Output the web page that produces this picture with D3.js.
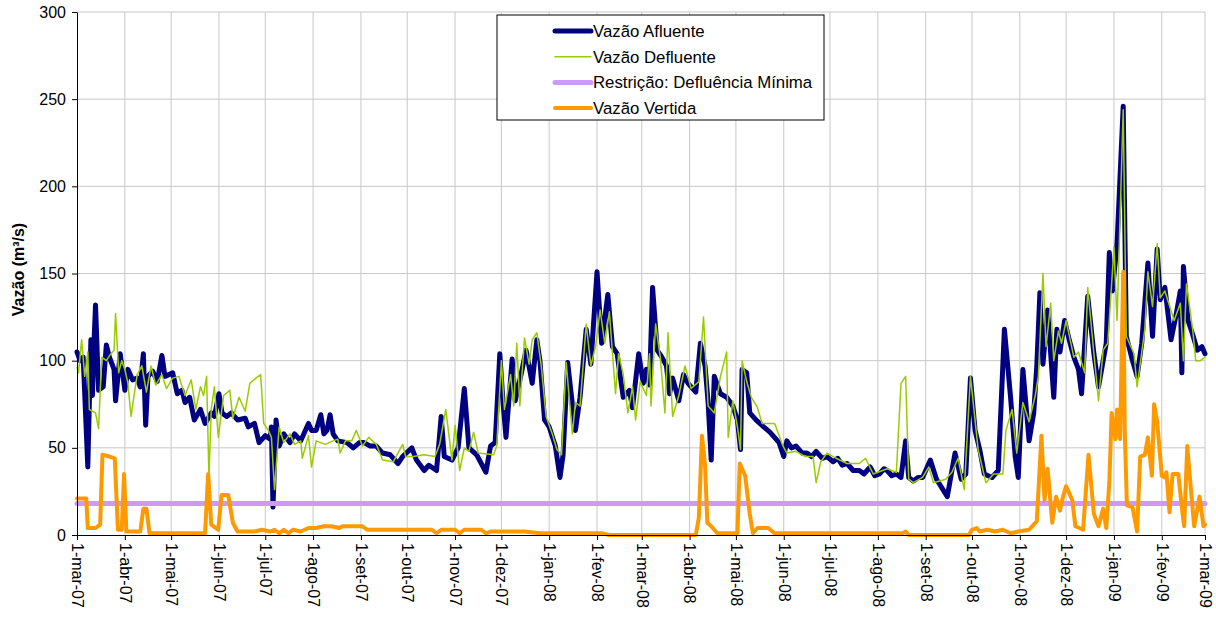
<!DOCTYPE html>
<html>
<head>
<meta charset="utf-8">
<script src="https://cdn.jsdelivr.net/npm/d3@7"></script>
<style>
  body { margin: 0; background: #fff; }
  svg { font-family: "Liberation Sans", Arial, sans-serif; }
</style>
</head>
<body>
<div id="chart"></div>
<script>
// day offsets counted from 1-mar-07
const startDate = new Date(2007, 2, 1);
const endDate = new Date(2009, 2, 1);
const monthNames = ["jan", "fev", "mar", "abr", "mai", "jun", "jul", "ago", "set", "out", "nov", "dez"];
const yTicks = [0, 50, 100, 150, 200, 250, 300];
const seriesNames = ["Vazão Afluente", "Vazão Defluente", "Restrição: Defluência Mínima", "Vazão Vertida"];

const afluente = [[0,105],[2,100],[4,102],[7,39],[9,112],[10,80],[11,110],[12,132],[14,83],[17,85],[19,109],[21,102],[24,95],[25,77],[28,104],[31,83],[33,95],[36,89],[39,90],[41,85],[43,104],[44.5,63],[46,91],[49,94],[52,88],[55,103],[57,91],[62,93],[65,81],[68,83],[70,76],[73,79],[76,66],[80,72],[83,64],[87,70],[89,68],[92,81],[94,70],[97,68],[100,70],[104,66],[109,67],[111,62],[115,64],[118,53],[122,57],[125,55],[126,62],[127,16],[129,66],[131,51],[134,58],[138,53],[141,58],[145,54],[150,64],[152,60],[155,60],[158,69],[160,58],[162,60],[164,69],[166,58],[169,54],[175,53],[179,50],[183,53],[186,53],[190,51],[194,51],[198,47],[203,46],[208,41],[211,45],[217,50],[220,43],[225,37],[228,40],[233,37],[236,68],[238,45],[243,43],[247,50],[251,84],[254,50],[259,46],[262,41],[265,36],[268,51],[271,53],[274,104],[276,77],[278,56],[282,101],[284,77],[288,93],[291,106],[295,87],[298,112],[300,100],[303,66],[306,62],[310,51],[313,33],[315,46],[318,99],[320,83],[323,60],[326,79],[330,118],[333,98],[337,151],[340,110],[344,138],[347,108],[350,104],[354,79],[358,83],[360,73],[364,104],[367,87],[369,95],[371,86],[373,142],[376,106],[379,102],[382,97],[384,81],[386,90],[390,77],[393,92],[396,87],[401,82],[404,110],[407,97],[409,76],[411,43],[413,91],[417,81],[421,79],[425,74],[428,66],[430,49],[431,95],[434,93],[436,70],[440,66],[445,62],[449,59],[452,56],[455,53],[458,45],[460,54],[463,50],[466,51],[470,47],[473,47],[476,45],[479,48],[483,44],[486,45],[490,42],[493,44],[496,40],[499,41],[503,37],[507,37],[510,35],[514,39],[517,34],[520,35],[523,38],[525,37],[528,34],[531,35],[534,33],[537,54],[539,33],[542,31],[545,33],[548,33],[553,43],[557,32],[564,22],[569,47],[573,32],[576,35],[579,90],[582,60],[585,49],[588,35],[593,33],[597,37],[601,118],[605,79],[608,45],[610,33],[613,95],[617,54],[620,70],[622,97],[624,139],[626,98],[629,129],[633,79],[635,118],[637,105],[640,123],[643,112],[646,102],[649,95],[651,81],[655,137],[659,104],[662,85],[665,100],[667,110],[669,162],[671,140],[674,167],[678,246],[680,114],[684,100],[687,91],[690,110],[694,156],[697,114],[700,164],[702,135],[705,142],[709,112],[712,125],[715,140],[716,93],[717,154],[720,123],[723,115],[726,106],[729,108],[731,104]];

const defluente = [[0,96],[1,93],[3,112],[5,91],[7,105],[8,72],[12,70],[14,61],[16,102],[19,100],[22,104],[24,106],[25,127],[27,93],[29,100],[31,95],[33,87],[35,68],[39,92],[42,97],[45,82],[48,97],[51,86],[55,92],[58,84],[62,90],[66,91],[70,80],[74,89],[77,72],[80,85],[82,80],[84,91],[85.5,33],[87,72],[89,85],[91.6,56],[95,80],[99,83],[101,67],[105,79],[109,71],[112,87],[116,90],[119,92],[121,64],[124,60],[126,56],[128,26],[131,62],[134,53],[138,58],[141,52],[145,54],[146,44],[150,57],[152,39],[155,54],[161,52],[166,54],[169,55],[170.5,47],[174,54],[178,54],[181,60],[185,51],[189,56],[194,52],[198,43],[205,42],[211,52],[213,45],[218,45],[225,46],[232,45],[235,52],[239,72],[243,43],[245,63],[248,37],[251,50],[254,48],[257,59],[260,47],[270,46],[272,51],[275,100],[277,72],[281,92],[283,74],[285,110],[287,74],[290,113],[293,98],[295,112],[298,116],[301,96],[304,68],[308,58],[311,49],[314,46],[317,99],[321,58],[323,76],[326,74],[330,121],[333,97],[336,108],[339,129],[342,110],[345,128],[349,81],[351,104],[354,92],[357,70],[360,85],[362,66],[365,88],[369,80],[371,104],[372,74],[375,121],[378,102],[381,70],[383,116],[386,68],[390,80],[394,97],[398,84],[403,88],[406,125],[409,74],[413,70],[417,91],[421,105],[422,56],[425,77],[428,62],[430,49],[431,100],[434,88],[437,79],[441,73],[444,64],[452,64],[453,62],[457,52],[460,47],[466,48],[472,45],[477,45],[479,30],[482,42],[486,47],[492,44],[499,41],[507,41],[511,44],[516,35],[525,38],[531,36],[534,87],[537,91],[539,32],[542,30],[548,33],[552,39],[555,30],[563,32],[567,36],[571,44],[575,26],[579,91],[584,49],[589,30],[594,35],[600,35],[602,60],[606,72],[609,47],[613,76],[617,65],[621,80],[623,91],[626,150],[628,108],[631,133],[633,100],[636,117],[638,110],[641,123],[646,102],[649,105],[653,93],[655,142],[659,104],[662,77],[665,106],[668,110],[672,165],[674,123],[678,244],[680,114],[685,104],[687,85],[692,118],[694,151],[697,131],[700,167],[702,136],[705,140],[711,123],[715,133],[717,100],[719,144],[723,118],[725,100],[728,100],[731,102]];

const restricao = [[0,18],[731,18]];

const vertida = [[0,21],[6,21],[7,4],[12,4],[15,6],[16.5,46],[21,45],[24.5,44],[26.5,3],[29,3],[30.5,35],[32,2],[41,2],[43,15],[45,15],[47,1],[83,1],[85,35],[87,6],[91.5,3],[93.7,23],[98,23],[101,7],[104,2],[115,2],[120,3],[125,2],[128,3],[131,1],[134,3],[137,1],[140,3],[145,2],[150,4],[155,4],[160,5],[165,5],[170,4],[172,5],[178,5],[185,5],[188,3],[230,3],[233,1],[236,3],[245,3],[248,1],[251,3],[262,3],[265,1],[268,2],[290,2],[300,1],[340,1],[345,0],[401,0],[403,10],[405,57],[407,40],[408.5,7],[411,5],[415,1],[428,1],[429.5,41],[433,34],[436,12],[438,1],[441,4],[448,4],[452,1],[535,1],[537,2],[539,0],[578,0],[580,3],[583,4],[585,2],[590,3],[595,2],[600,3],[605,1],[610,2],[617,3],[622,8],[625,57],[627,20],[629,38],[632,7],[634.5,22],[637,14],[639,22],[641,28],[645,20],[647,5],[652,3],[655.5,46],[659,12],[662,5],[665,15],[667,4],[669,30],[670.5,70],[673,55],[674,72],[676,55],[678,151],[679,60],[680.4,17],[684,16],[687,2],[689,45],[692,46],[694,56],[696.6,34],[698,75],[700,65],[703,34],[705,33],[706,36],[708,13],[710,35],[713.7,35],[716.5,12],[717.5,5],[719.5,51],[721,35],[724,5],[727.5,22],[730,5],[731,6]];

const colors = ["#000080", "#99cc00", "#cc99ff", "#ff9900"];
const widths = [5, 1.5, 5, 4];

const W = 1216, H = 619;
const margin = { top: 12, right: 11, bottom: 84, left: 77 };

const svg = d3.select("#chart").append("svg")
    .attr("width", W)
    .attr("height", H);

const x = d3.scaleTime()
    .domain([startDate, endDate])
    .range([margin.left, W - margin.right]);

const y = d3.scaleLinear()
    .domain([0, 300])
    .range([H - margin.bottom, margin.top]);

const months = d3.timeMonth.range(startDate, d3.timeDay.offset(endDate, 1));
const dayToDate = d => new Date(startDate.getTime() + d * 864e5);

// gridlines
svg.append("g")
    .selectAll("line")
    .data(yTicks.slice(1))
    .join("line")
    .attr("x1", margin.left).attr("x2", W - margin.right)
    .attr("y1", d => y(d)).attr("y2", d => y(d))
    .attr("stroke", "#c8c8c8").attr("stroke-width", 1);

svg.append("g")
    .selectAll("line")
    .data(months.slice(1))
    .join("line")
    .attr("x1", d => x(d)).attr("x2", d => x(d))
    .attr("y1", margin.top).attr("y2", H - margin.bottom)
    .attr("stroke", "#c8c8c8").attr("stroke-width", 1);

// series
const line = d3.line()
    .x(d => x(dayToDate(d[0])))
    .y(d => y(d[1]));

[afluente, defluente, restricao, vertida].forEach((s, i) => {
    svg.append("path")
        .datum(s)
        .attr("d", line)
        .attr("fill", "none")
        .attr("stroke", colors[i])
        .attr("stroke-width", widths[i])
        .attr("stroke-linejoin", "round")
        .attr("stroke-linecap", "round");
});

// axes
const yAxis = svg.append("g")
    .attr("transform", `translate(${margin.left},0)`)
    .call(d3.axisLeft(y).tickValues(yTicks).tickSize(5).tickSizeOuter(0).tickPadding(6));
yAxis.selectAll("text").style("font-size", "16px").attr("fill", "#000");
yAxis.selectAll("line, path").attr("stroke", "#000");

const xAxis = svg.append("g")
    .attr("transform", `translate(0,${H - margin.bottom})`)
    .call(d3.axisBottom(x)
        .tickValues(months)
        .tickSize(5)
        .tickSizeOuter(0)
        .tickFormat(d => `1-${monthNames[d.getMonth()]}-${String(d.getFullYear()).slice(2)}`));
xAxis.selectAll("line, path").attr("stroke", "#000");
xAxis.selectAll("text")
    .attr("transform", "rotate(90)")
    .attr("x", 8)
    .attr("y", 0)
    .attr("dy", "0.35em")
    .style("text-anchor", "start")
    .style("font-size", "16px")
    .attr("fill", "#000");

// axis title
svg.append("text")
    .attr("transform", `translate(24,${(margin.top + H - margin.bottom) / 2 - 4}) rotate(-90)`)
    .attr("text-anchor", "middle")
    .style("font-size", "16px")
    .style("font-weight", "bold")
    .text("Vazão (m³/s)");

// legend
const legend = svg.append("g").attr("transform", "translate(497,15)");
legend.append("rect")
    .attr("width", 327).attr("height", 105)
    .attr("fill", "#fff").attr("stroke", "#000").attr("stroke-width", 1);

seriesNames.forEach((name, i) => {
    const ly = 16 + i * 25.7;
    legend.append("line")
        .attr("x1", 58).attr("x2", 94)
        .attr("y1", ly).attr("y2", ly)
        .attr("stroke", colors[i])
        .attr("stroke-width", widths[i])
        .attr("stroke-linecap", "round");
    legend.append("text")
        .attr("x", 96).attr("y", ly)
        .attr("dy", "0.35em")
        .style("font-size", "16.8px")
        .text(name);
});
</script>
</body>
</html>
